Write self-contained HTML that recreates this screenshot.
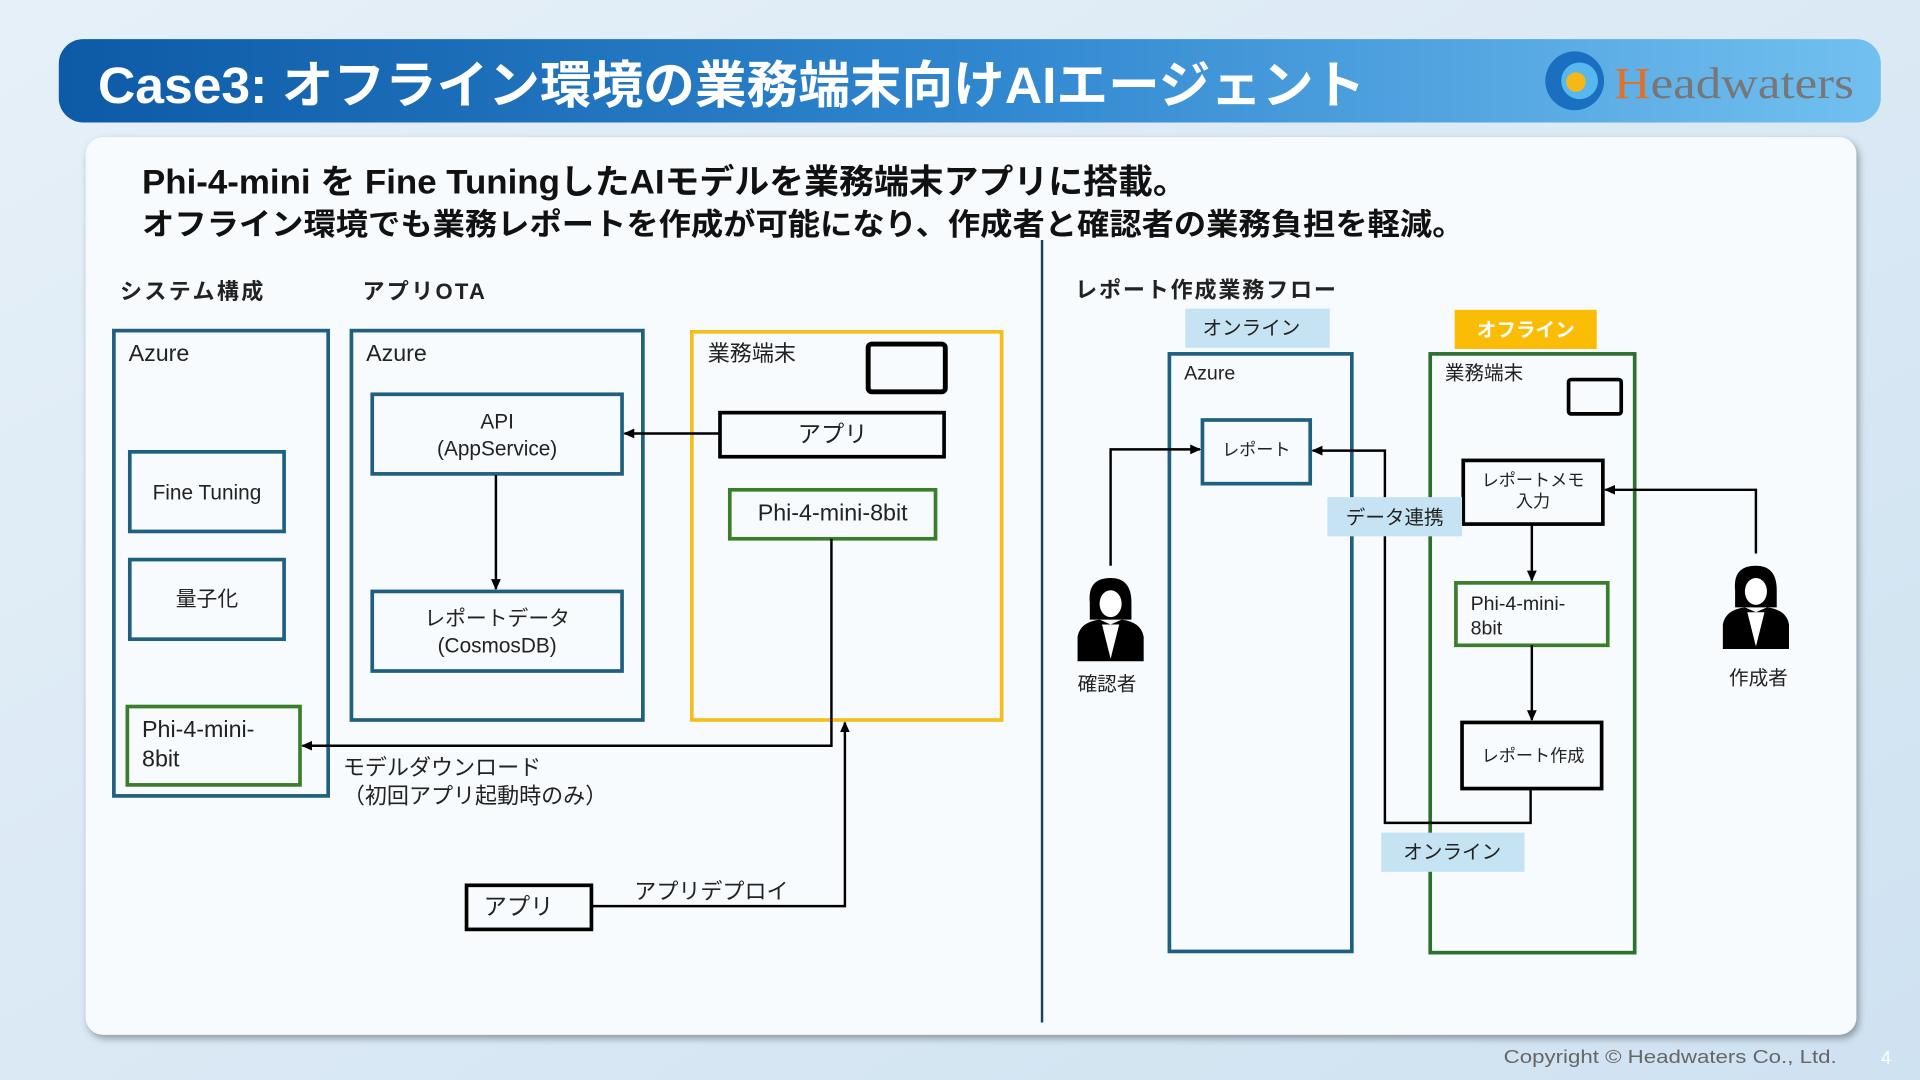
<!DOCTYPE html>
<html><head><meta charset="utf-8"><style>
html,body{margin:0;padding:0;width:1920px;height:1080px;overflow:hidden;background:#dce9f4}
svg{display:block}
text{font-family:"Liberation Sans","Noto Sans CJK JP",sans-serif;fill:#222}
</style></head><body>
<svg width="1920" height="1080" viewBox="0 0 1568 882" xmlns="http://www.w3.org/2000/svg">
<defs>
<linearGradient id="bg" x1="0" y1="0" x2="1" y2="1"><stop offset="0" stop-color="#e6f0f8"/><stop offset="1" stop-color="#cfe2f1"/></linearGradient>
<linearGradient id="tb" x1="0" y1="0" x2="1" y2="0"><stop offset="0" stop-color="#0d5aa6"/><stop offset="0.5" stop-color="#2f86cf"/><stop offset="1" stop-color="#72c0f0"/></linearGradient>
<marker id="ar" markerWidth="10" markerHeight="10" refX="8" refY="5" orient="auto" markerUnits="userSpaceOnUse"><path d="M0,1 L9,5 L0,9 Z" fill="#000"/></marker>
<filter id="sh" x="-5%" y="-5%" width="110%" height="110%"><feDropShadow dx="2" dy="3" stdDeviation="3" flood-color="#000" flood-opacity="0.35"/></filter>
<g id="person"><ellipse cx="27" cy="20" rx="13" ry="16" fill="#000"/><path d="M10,22 Q8,2 27,2 Q44,2 44,22 L44,36 L10,36Z" fill="#000"/><ellipse cx="27" cy="23" rx="9" ry="11" fill="#fff"/><path d="M0,70 L0,50 Q2,38 18,36 L27,40 L36,36 Q52,38 54,50 L54,70 Z" fill="#000"/><path d="M20,40 L27,68 L34,40 Z" fill="#fff"/></g>
</defs>
<rect width="1568" height="882" fill="url(#bg)"/>
<rect x="48" y="32" width="1488" height="68" rx="20" fill="url(#tb)"/>
<text x="80" y="84" textLength="1035" lengthAdjust="spacingAndGlyphs" style="font-size:42px;font-weight:bold;fill:#fff">Case3: オフライン環境の業務端末向けAIエージェント</text>
<circle cx="1286" cy="66" r="24" fill="#1a6fc0"/><circle cx="1290" cy="66" r="15" fill="#57b7ef"/><circle cx="1287" cy="67" r="8" fill="#f5b818"/>
<text x="1318" y="80" textLength="196" lengthAdjust="spacingAndGlyphs" style="font-family:'Liberation Serif',serif;font-size:36px;fill:#777"><tspan style="fill:#e0702a">H</tspan>eadwaters</text>
<rect x="70" y="112" width="1446" height="733" rx="14" fill="#f7fbfd" filter="url(#sh)"/>
<text x="116" y="158" textLength="854" lengthAdjust="spacingAndGlyphs" style="font-size:28px;font-weight:bold;fill:#111">Phi-4-mini を Fine TuningしたAIモデルを業務端末アプリに搭載。</text>
<text x="116" y="192" textLength="1080" lengthAdjust="spacingAndGlyphs" style="font-size:25px;font-weight:bold;fill:#111">オフライン環境でも業務レポートを作成が可能になり、作成者と確認者の業務負担を軽減。</text>
<line x1="851" y1="196" x2="851" y2="835" stroke="#1f3f5f" stroke-width="2"/>
<text x="98" y="244" textLength="117" style="font-size:18px;font-weight:bold">システム構成</text>
<text x="296" y="244" textLength="100" style="font-size:18px;font-weight:bold">アプリOTA</text>
<text x="878" y="243" textLength="213" style="font-size:18px;font-weight:bold">レポート作成業務フロー</text>
<g fill="none" stroke-width="3">
<rect x="93" y="270" width="175" height="380" stroke="#1f5f7f"/>
<rect x="106" y="369" width="126" height="65" stroke="#1f5f7f"/>
<rect x="106" y="457" width="126" height="65" stroke="#1f5f7f"/>
<rect x="104" y="577" width="141" height="64" stroke="#3a7d2a"/>
<rect x="287" y="270" width="238" height="318" stroke="#1f5f7f"/>
<rect x="304" y="322" width="204" height="65" stroke="#1f5f7f"/>
<rect x="304" y="483" width="204" height="65" stroke="#1f5f7f"/>
<rect x="565" y="271" width="253" height="317" stroke="#f5be1a"/>
<rect x="709" y="281" width="63" height="39" rx="3" stroke="#000" stroke-width="4"/>
<rect x="588" y="337" width="183" height="36" stroke="#000"/>
<rect x="596" y="400" width="168" height="40" stroke="#3a7d2a"/>
<rect x="381" y="723" width="102" height="36" stroke="#000"/>
<rect x="955" y="289" width="149" height="488" stroke="#1f5f7f"/>
<rect x="982" y="343" width="88" height="52" stroke="#1f5f7f"/>
<rect x="1168" y="289" width="167" height="489" stroke="#2e7030"/>
<rect x="1281" y="310" width="43" height="28" rx="2" stroke="#000"/>
<rect x="1195" y="376" width="114" height="52" stroke="#000"/>
<rect x="1189" y="476" width="124" height="51" stroke="#3a7d2a"/>
<rect x="1194" y="590" width="114" height="54" stroke="#000"/>
</g>
<g fill="none" stroke="#000" stroke-width="2">
<line x1="405" y1="388" x2="405" y2="481" marker-end="url(#ar)"/>
<line x1="588" y1="354" x2="510" y2="354" marker-end="url(#ar)"/>
<polyline points="679,440 679,609 247,609" marker-end="url(#ar)"/>
<polyline points="483,740 690,740 690,590" marker-end="url(#ar)"/>
<line x1="1251" y1="428" x2="1251" y2="474" marker-end="url(#ar)"/>
<line x1="1251" y1="527" x2="1251" y2="588" marker-end="url(#ar)"/>
<polyline points="1250,644 1250,672 1131,672 1131,368 1072,368" marker-end="url(#ar)"/>
<polyline points="907,462 907,367 980,367" marker-end="url(#ar)"/>
<polyline points="1434,452 1434,400 1311,400" marker-end="url(#ar)"/>
</g>
<rect x="968" y="252" width="118" height="32" fill="#c5e3f3"/>
<rect x="1188" y="253" width="116" height="32" fill="#fbbc06"/>
<rect x="1084" y="406" width="110" height="32" fill="#c5e3f3"/>
<rect x="1128" y="680" width="117" height="32" fill="#c5e3f3"/>
<g style="font-size:19px">
<text x="105" y="295">Azure</text>
<text x="299" y="295">Azure</text>
<text x="578" y="295" style="font-size:18px">業務端末</text>
<text x="169" y="408" text-anchor="middle" style="font-size:17px">Fine Tuning</text>
<text x="169" y="495" text-anchor="middle" style="font-size:17px">量子化</text>
<text x="116" y="602">Phi-4-mini-</text>
<text x="116" y="626">8bit</text>
<text x="406" y="350" text-anchor="middle" style="font-size:17px">API</text>
<text x="406" y="372" text-anchor="middle" style="font-size:17px">(AppService)</text>
<text x="406" y="511" text-anchor="middle" style="font-size:17px">レポートデータ</text>
<text x="406" y="533" text-anchor="middle" style="font-size:17px">(CosmosDB)</text>
<text x="680" y="361" text-anchor="middle">アプリ</text>
<text x="680" y="425" text-anchor="middle">Phi-4-mini-8bit</text>
<text x="280" y="633" style="font-size:18px">モデルダウンロード</text>
<text x="280" y="656" style="font-size:18px">（初回アプリ起動時のみ）</text>
<text x="395" y="747">アプリ</text>
<text x="518" y="734" style="font-size:18px">アプリデプロイ</text>
</g>
<g style="font-size:16px">
<text x="1022" y="273" text-anchor="middle">オンライン</text>
<text x="1246" y="275" text-anchor="middle" style="fill:#fff;font-weight:bold">オフライン</text>
<text x="967" y="310">Azure</text>
<text x="1180" y="310">業務端末</text>
<text x="1026" y="372" text-anchor="middle" style="font-size:14px">レポート</text>
<text x="1252" y="397" text-anchor="middle" style="font-size:14px">レポートメモ</text>
<text x="1252" y="414" text-anchor="middle" style="font-size:14px">入力</text>
<text x="1201" y="498">Phi-4-mini-</text>
<text x="1201" y="518">8bit</text>
<text x="1252" y="622" text-anchor="middle" style="font-size:14px">レポート作成</text>
<text x="1139" y="428" text-anchor="middle">データ連携</text>
<text x="1186" y="701" text-anchor="middle">オンライン</text>
<text x="904" y="564" text-anchor="middle">確認者</text>
<text x="1436" y="559" text-anchor="middle">作成者</text>
</g>
<use href="#person" x="880" y="470"/>
<use href="#person" x="1407" y="460"/>
<text x="1228" y="868" textLength="272" lengthAdjust="spacingAndGlyphs" style="font-size:15px;fill:#666">Copyright © Headwaters Co., Ltd.</text>
<text x="1536" y="869" style="font-size:15px;fill:#fff">4</text>
</svg>
</body></html>
